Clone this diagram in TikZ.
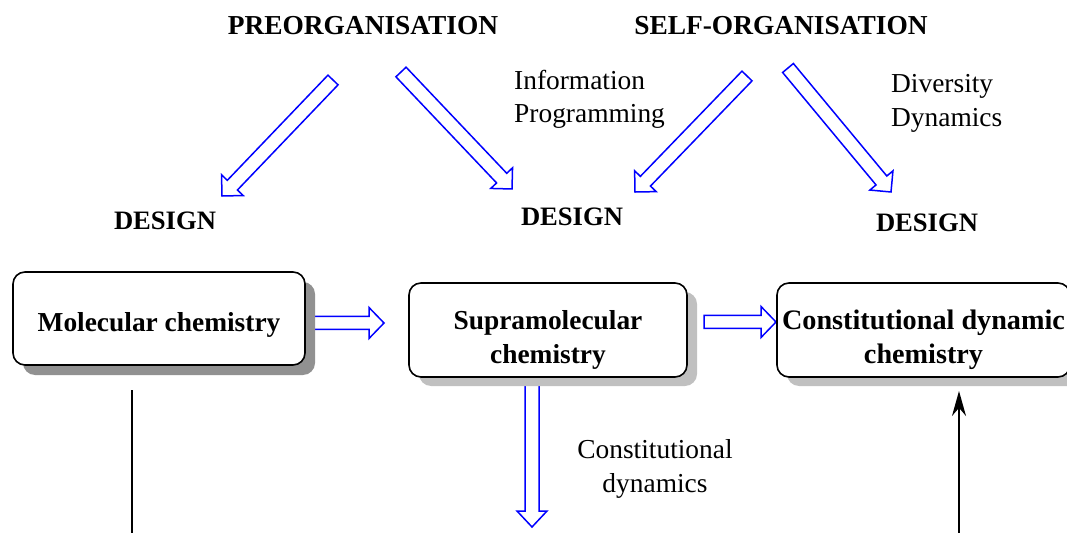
\documentclass[tikz,border=0pt]{standalone}
\usepackage{fontspec}
\setmainfont{Liberation Serif}
\usetikzlibrary{calc,shadows,arrows.meta}
\definecolor{shadowdark}{HTML}{919191}
\definecolor{shadowlight}{HTML}{C0C0C0}
\newcommand\hollowarrow[5]{%
  \path let \p1=($(#2)-(#1)$), \n1={atan2(\y1,\x1)}, \n2={veclen(\x1,\y1)} in
    \pgfextra{\xdef\haAng{\n1}\xdef\haLen{\n2}};
  \draw[hollow, shift={(#1)}, rotate=\haAng]
    (0pt,#3) -- (\haLen-#5,#3) -- (\haLen-#5,#4) -- (\haLen,0pt)
    -- (\haLen-#5,-#4) -- (\haLen-#5,-#3) -- (0pt,-#3) -- cycle;}
\begin{document}
\begin{tikzpicture}[x=1bp,y=-1bp,
  txt/.style={inner sep=0pt, font=\fontsize{27.4bp}{33bp}\selectfont},
  bold/.style={inner sep=0pt, font=\fontsize{27.4bp}{33bp}\selectfont\bfseries},
  chembox/.style={draw=black, line width=1.6bp, rounded corners=12bp, fill=white,
    align=center, inner sep=0pt, font=\fontsize{27.4bp}{34bp}\selectfont\bfseries},
  darkshadow/.style={drop shadow={shadow xshift=10bp, shadow yshift=-10bp, fill=shadowdark, opacity=1}},
  lightshadow/.style={drop shadow={shadow xshift=10bp, shadow yshift=-9bp, fill=shadowlight, opacity=1}},
  hollow/.style={draw=blue, line width=1.5bp, fill=white},
  blackline/.style={draw=black, line width=1.9bp},
]
\useasboundingbox (0,0) rectangle (1067,533);

% hollow arrow end points
\coordinate (a1s) at (333,80);  \coordinate (a1e) at (222,196);
\coordinate (a2s) at (401,72);  \coordinate (a2e) at (512,189);
\coordinate (a3s) at (747,76);  \coordinate (a3e) at (635,192);
\coordinate (a4s) at (788,68);  \coordinate (a4e) at (891,192);
\coordinate (h1s) at (310,323); \coordinate (h1e) at (384,323);
\coordinate (h2s) at (704,322); \coordinate (h2e) at (776,322);
\coordinate (v1s) at (532,380); \coordinate (v1e) at (532,527);

\hollowarrow{a1s}{a1e}{7bp}{15bp}{15bp}
\hollowarrow{a2s}{a2e}{7bp}{15bp}{15bp}
\hollowarrow{a3s}{a3e}{7bp}{15bp}{15bp}
\hollowarrow{a4s}{a4e}{7bp}{15bp}{15bp}
\hollowarrow{h1s}{h1e}{6.5bp}{15.5bp}{15bp}
\hollowarrow{h2s}{h2e}{6.5bp}{15.5bp}{15bp}
\hollowarrow{v1s}{v1e}{7bp}{15bp}{16bp}

% headings
\node[bold, anchor=base] (preorg) at (363,35) {PREORGANISATION};
\node[bold, anchor=base] (selforg) at (781,35) {SELF-ORGANISATION};
\node[txt, anchor=base west, align=left] (info) at (514,123) {Information\\Programming};
\node[txt, anchor=base west, align=left, font=\fontsize{27.4bp}{34bp}\selectfont] (div) at (891,127) {Diversity\\Dynamics};
\node[bold, anchor=base, font=\fontsize{26.6bp}{33bp}\selectfont\bfseries] (d1) at (165,230) {DESIGN};
\node[bold, anchor=base, font=\fontsize{26.6bp}{33bp}\selectfont\bfseries] (d2) at (572,226) {DESIGN};
\node[bold, anchor=base, font=\fontsize{26.6bp}{33bp}\selectfont\bfseries] (d3) at (927,232) {DESIGN};

% boxes
\node[chembox, darkshadow, minimum width=292bp, minimum height=93bp,
      text height=31bp, text depth=6bp] (mol) at (159,318.5) {Molecular chemistry};
\node[chembox, lightshadow, minimum width=278bp, minimum height=94bp,
      text height=74bp, text depth=8bp] (supra) at (548,330) {Supramolecular\\chemistry};
\node[chembox, lightshadow, minimum width=293bp, minimum height=94bp,
      font=\fontsize{28.2bp}{34bp}\selectfont\bfseries,
      text height=74bp, text depth=8bp] (cdc) at (923.5,330) {Constitutional dynamic\\chemistry};

\node[txt, anchor=base, align=center, font=\fontsize{27.4bp}{34bp}\selectfont] (cdyn) at (655,492) {Constitutional\\dynamics};

% black lines
\coordinate (l1a) at (132,390); \coordinate (l1b) at (132,540);
\draw[blackline] (l1a) -- (l1b);
\coordinate (r1a) at (959,540); \coordinate (r1b) at (959,391);
\draw[blackline, -{Stealth[length=25bp,width=14bp]}] (r1a) -- (r1b);
\end{tikzpicture}
\end{document}
